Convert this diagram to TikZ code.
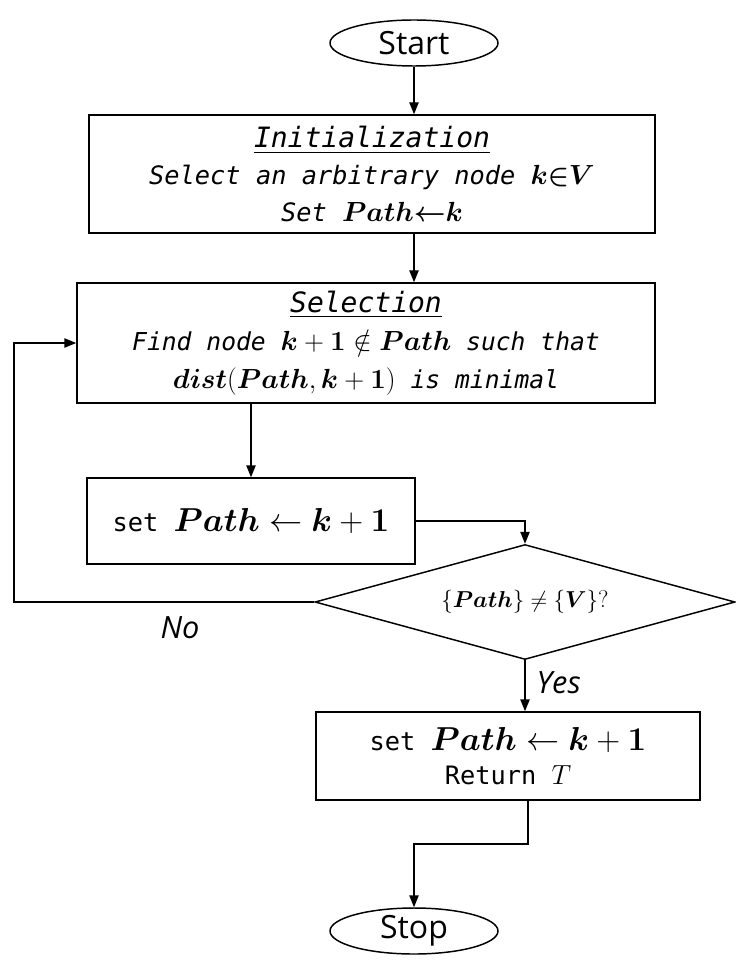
\documentclass[tikz,border=0pt]{standalone}
\usepackage{amsmath,amssymb}
\usepackage{bm}
\usepackage[no-math]{fontspec}
\newfontfamily\codefont{DejaVu Sans Mono}
\newfontfamily\labelfont{Open Sans}
\usetikzlibrary{arrows.meta,positioning,shapes.geometric}

\tikzset{
    flow/.style={line width=1.1pt},
    arr/.style={flow, -{Triangle[length=9pt,width=7pt]}},
    terminal/.style={ellipse, draw, line width=1.1pt, minimum width=126pt,
        minimum height=34.5pt, inner sep=0pt, font=\labelfont\fontsize{24}{28}\selectfont},
    procbox/.style={rectangle, draw, line width=1.1pt, align=center, inner sep=0pt,
        font=\codefont\fontsize{19}{26}\selectfont},
    algobox/.style={procbox, font=\codefont\itshape\fontsize{19}{27.5}\selectfont},
    decision/.style={diamond, draw, line width=1.1pt, aspect=3.65, inner sep=0pt,
        minimum width=315pt, minimum height=86.25pt, font=\fontsize{18}{20}\selectfont},
    answer/.style={font=\labelfont\itshape\fontsize{23}{26}\selectfont},
}
\newcommand{\headline}[1]{{\fontsize{21}{27.5}\selectfont\underline{#1}}}
\newcommand{\mathtxt}[1]{{\fontsize{21}{26}\selectfont$#1$}}

\begin{document}
\begin{tikzpicture}[x=0.75pt, y=-0.75pt]
    \useasboundingbox (0, 0) rectangle (735, 962);

    % Terminals
    \node[terminal] (start) at (414, 43) {Start};
    \node[terminal] (stop) at (414, 931) {Stop};

    % Steps
    \node[algobox, minimum width=424.5pt, minimum height=88.5pt] (init) at (372, 174)
        {\headline{Initialization}\\
         Select an arbitrary node \mathtxt{\bm{k{\in}V}}\\
         Set \mathtxt{\bm{Path{\leftarrow}k}}};
    \node[algobox, minimum width=433.5pt, minimum height=90pt,
        font=\codefont\itshape\fontsize{18.5}{28.5}\selectfont] (sel) at (366, 343)
        {\headline{Selection}\\
         Find node \mathtxt{\bm{k}+\mathbf{1}\notin\bm{Path}} such that\\
         \mathtxt{\bm{dist}(\bm{Path},\bm{k}+\mathbf{1})} is minimal};
    \node[procbox, minimum width=246pt, minimum height=64.5pt] (set) at (251, 521)
        {set {\fontsize{23}{26}\selectfont$\bm{Path}\leftarrow\bm{k}+\mathbf{1}$}};
    \node[decision] (dec) at (525, 602) {$\{\bm{Path}\}\neq\{\bm{V}\}$?};
    \node[procbox, minimum width=288pt, minimum height=66pt] (final) at (508, 756)
        {set {\fontsize{23}{26}\selectfont$\bm{Path}\leftarrow\bm{k}+\mathbf{1}$}\\
         Return {\fontsize{21}{26}\selectfont$T$}};

    % Labels
    \node[answer] (no) at (180, 628) {No};
    \node[answer, anchor=west] (yes) at (532, 683) {Yes};

    % Connectors
    \coordinate (loopc) at (14, 602);
    \coordinate (bend) at (528, 844);
    \draw[arr] (start) -- (start |- init.north);
    \draw[arr] (init.south -| start) -- (sel.north -| start);
    \draw[arr] (set.north |- sel.south) -- (set.north);
    \draw[arr] (set.east) -| (dec.north);
    \draw[arr] (dec.west) -- (loopc) |- (sel.west);
    \draw[arr] (dec.south) -- (dec.south |- final.north);
    \draw[arr] (bend |- final.south) -- (bend) -| (stop.north);
\end{tikzpicture}
\end{document}
